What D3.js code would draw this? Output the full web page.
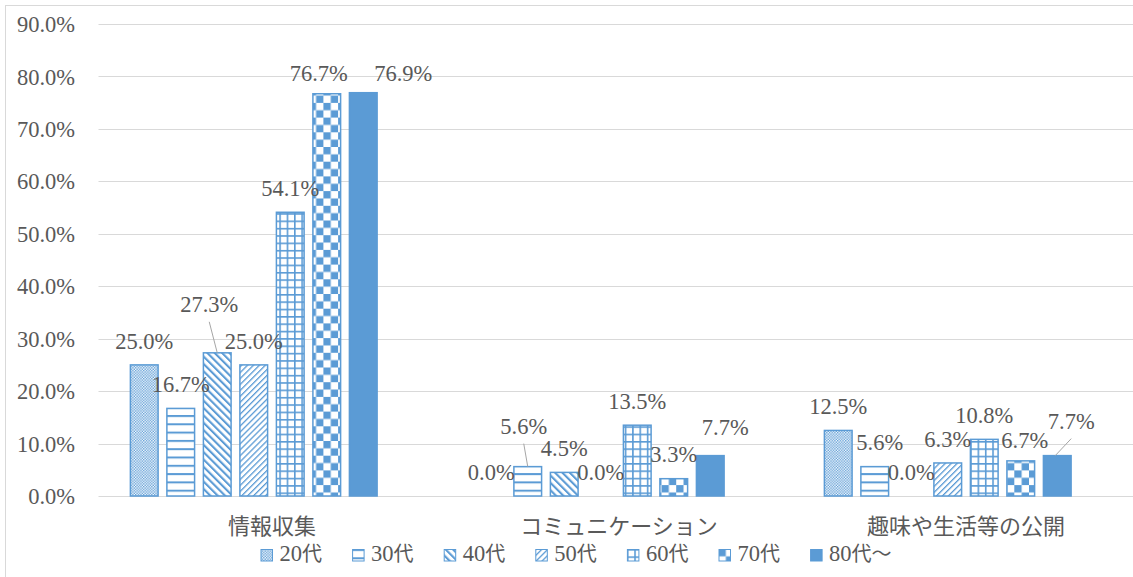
<!DOCTYPE html>
<html>
<head>
<meta charset="utf-8">
<script src="https://cdn.jsdelivr.net/npm/d3@7"></script>
<style>
  html, body { margin: 0; padding: 0; background: #ffffff; }
  svg { display: block; }
  .num { font-family: "Liberation Serif", serif; }
  .jp { font-family: "Noto Sans CJK JP", sans-serif; }
</style>
</head>
<body>
<svg id="chart" width="1133" height="577"></svg>
<script>
// Categories, age groups and percentages
const categories = ["情報収集", "コミュニケーション", "趣味や生活等の公開"];
const series = ["20代", "30代", "40代", "50代", "60代", "70代", "80代〜"];
const v20 = [25.0, 0.0, 12.5];
const v30 = [16.7, 5.6, 5.6];
const v40 = [27.3, 4.5, 0.0];
const v50 = [25.0, 0.0, 6.3];
const v60 = [54.1, 13.5, 10.8];
const v70 = [76.7, 3.3, 6.7];
const v80 = [76.9, 7.7, 7.7];
const yTicks = [0, 10, 20, 30, 40, 50, 60, 70, 80, 90];

const values = [v20, v30, v40, v50, v60, v70, v80];

// Hand-placed data labels (offset from the default spot above each bar); third flag = leader line
const labelMoves = [
  [[0, 0], [0, 0], [0, 0]],
  [[0, 0], [-4, -16, true], [5, 0]],
  [[-8, -24, true], [0, 0], [0, 0]],
  [[0, 0], [0, 0], [0, 0]],
  [[0, 0], [0, 0], [0, 0]],
  [[-8, 3.5], [0, 0], [4, 3]],
  [[40, 4.5], [15, -4], [14, -10, true]]
];

const blue = "#5b9bd5";
const textColor = "#595959";
const gridColor = "#d9d9d9";
const numSize = 22.5;

const svg = d3.select("#chart");

// Outer chart frame
svg.append("rect")
  .attr("x", 5.5).attr("y", 5.5)
  .attr("width", 1140).attr("height", 600)
  .attr("fill", "#fff").attr("stroke", gridColor).attr("stroke-width", 1);

// Fill patterns
const defs = svg.append("defs");
function pattern(id, w, h, build, transform) {
  const p = defs.append("pattern").attr("id", id)
    .attr("patternUnits", "userSpaceOnUse").attr("width", w).attr("height", h);
  if (transform) p.attr("patternTransform", transform);
  p.append("rect").attr("width", w).attr("height", h).attr("fill", "#fff");
  build(p);
}
// 20代: fine checker
pattern("p0", 2.7, 2.7, p => {
  p.append("rect").attr("width", 1.35).attr("height", 1.35).attr("fill", blue);
  p.append("rect").attr("x", 1.35).attr("y", 1.35).attr("width", 1.35).attr("height", 1.35).attr("fill", blue);
});
// 30代: horizontal lines
pattern("p1", 10, 8.3, p => {
  p.append("rect").attr("y", 0).attr("width", 10).attr("height", 2).attr("fill", blue);
});
// 40代: wide downward diagonal
pattern("p2", 5.2, 10, p => {
  p.append("rect").attr("width", 2.1).attr("height", 10).attr("fill", blue);
}, "rotate(-45)");
// 50代: light upward diagonal
pattern("p3", 4.2, 10, p => {
  p.append("rect").attr("width", 1.3).attr("height", 10).attr("fill", blue);
}, "rotate(45)");
// 60代: grid
pattern("p4", 7.35, 7.35, p => {
  p.append("rect").attr("width", 7.35).attr("height", 1.6).attr("fill", blue);
  p.append("rect").attr("width", 1.6).attr("height", 7.35).attr("fill", blue);
});
// 70代: large checker
pattern("p5", 14.7, 14.7, p => {
  p.append("rect").attr("width", 7.35).attr("height", 7.35).attr("fill", blue);
  p.append("rect").attr("x", 7.35).attr("y", 7.35).attr("width", 7.35).attr("height", 7.35).attr("fill", blue);
});
const fills = ["url(#p0)", "url(#p1)", "url(#p2)", "url(#p3)", "url(#p4)", "url(#p5)", blue];

// Scales
const plot = { left: 98.5, right: 1139.5, top: 24, bottom: 496 };
const x0 = d3.scaleBand().domain(categories).range([plot.left, plot.right]);
// eight slots per group, the last one stays empty
const x1 = d3.scaleBand().domain(d3.range(series.length + 1))
  .range([0, x0.bandwidth()]).paddingInner(0.2).paddingOuter(0.853);
const y = d3.scaleLinear().domain([0, 90]).range([plot.bottom, plot.top]);

// Gridlines
svg.append("g").selectAll("line").data(yTicks).join("line")
  .attr("x1", plot.left).attr("x2", plot.right)
  .attr("y1", d => Math.round(y(d)) + 0.5).attr("y2", d => Math.round(y(d)) + 0.5)
  .attr("stroke", gridColor).attr("stroke-width", 1);

// Y axis labels
const yAxis = d3.axisLeft(y).tickValues(yTicks).tickSize(0).tickPadding(0)
  .tickFormat(d => d3.format(".1f")(d) + "%");
svg.append("g").attr("transform", "translate(75,0)").call(yAxis)
  .attr("font-family", null).attr("font-size", null)
  .call(g => g.select(".domain").remove())
  .call(g => g.selectAll("text").attr("class", "num").attr("font-size", numSize)
    .attr("fill", textColor).attr("dy", "0.34em"));

// Bars
const groups = svg.append("g").selectAll("g").data(series).join("g");
groups.each(function (s, si) {
  d3.select(this).selectAll("rect").data(values[si]).join("rect")
    .attr("x", (d, ci) => x0(categories[ci]) + x1(si) + 0.75)
    .attr("y", d => y(d))
    .attr("width", x1.bandwidth() - 1.5)
    .attr("height", d => y(0) - y(d))
    .attr("fill", fills[si])
    .attr("stroke", blue).attr("stroke-width", 1.5);
});

// Data labels with leader lines
const labels = svg.append("g");
series.forEach((s, si) => {
  values[si].forEach((v, ci) => {
    const cx = x0(categories[ci]) + x1(si) + x1.bandwidth() / 2;
    const top = y(v);
    const mv = labelMoves[si][ci];
    const lx = cx + mv[0];
    const ly = top - 24 + mv[1];
    if (mv[2]) {
      labels.append("line")
        .attr("x1", lx).attr("y1", ly + 17)
        .attr("x2", cx - (mv[0] > 0 ? 2 : 0)).attr("y2", top)
        .attr("stroke", "#a6a6a6").attr("stroke-width", 1);
    }
    labels.append("text").attr("class", "num")
      .attr("x", lx).attr("y", ly).attr("dy", "0.34em")
      .attr("text-anchor", "middle")
      .attr("font-size", numSize)
      .attr("fill", textColor)
      .text(d3.format(".1f")(v) + "%");
  });
});

// Category axis labels
svg.append("g").selectAll("text").data(categories).join("text")
  .attr("class", "jp")
  .attr("x", d => x0(d) + x0.bandwidth() / 2)
  .attr("y", 534)
  .attr("text-anchor", "middle")
  .attr("font-size", 22)
  .attr("fill", textColor)
  .text(d => d);

// Legend
const legend = svg.append("g").attr("transform", "translate(260.5,549)");
const item = legend.selectAll("g").data(series).join("g")
  .attr("transform", (d, i) => `translate(${i * 91.6},0)`);
item.append("rect")
  .attr("x", 0.5).attr("y", 0.5).attr("width", 11.5).attr("height", 11.5)
  .attr("fill", (d, i) => fills[i])
  .attr("stroke", blue).attr("stroke-width", 1);
const legendText = item.append("text")
  .attr("x", 19).attr("y", 6.5).attr("dy", "0.34em")
  .attr("fill", textColor);
legendText.append("tspan").attr("class", "num").attr("font-size", numSize)
  .text(d => d.match(/^\d+/)[0]);
legendText.append("tspan").attr("class", "jp").attr("font-size", 20)
  .text(d => d.replace(/^\d+/, ""));
</script>
</body>
</html>
